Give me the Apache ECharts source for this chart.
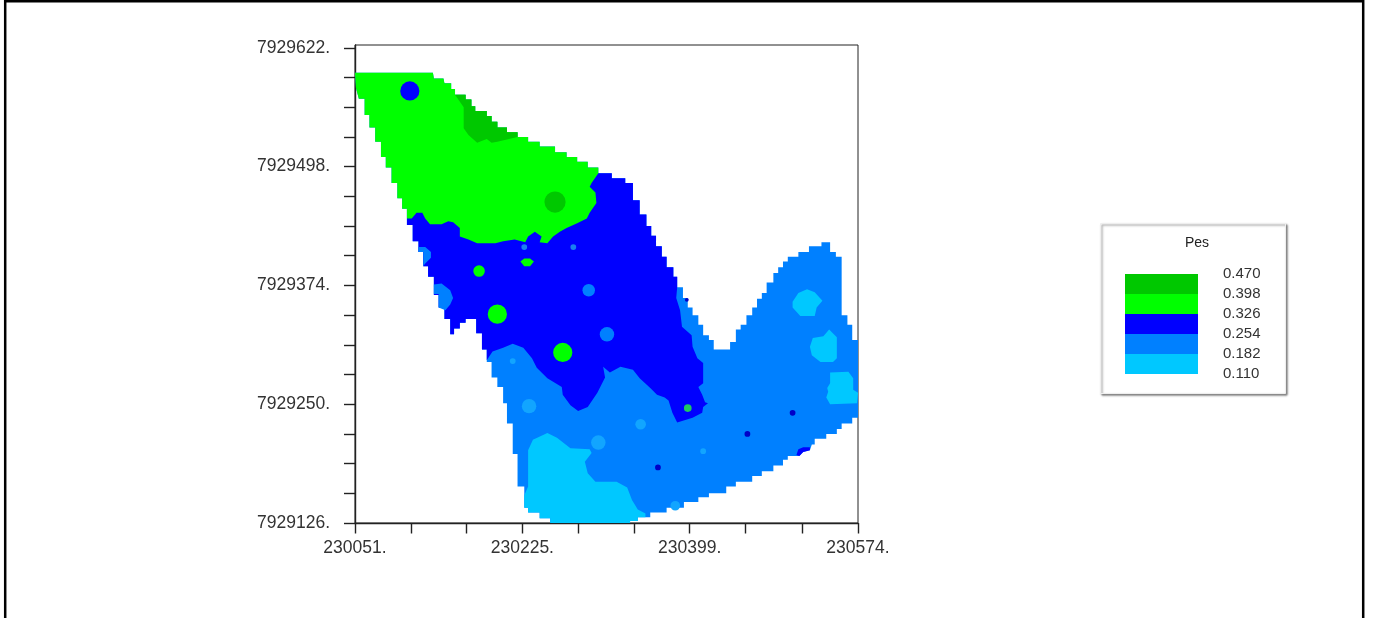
<!DOCTYPE html>
<html>
<head>
<meta charset="utf-8">
<style>html,body{margin:0;padding:0;background:#fff}#chart{width:1373px;height:618px}</style>
<script src="https://cdn.jsdelivr.net/npm/echarts@6/dist/echarts.min.js"></script>
</head>
<body>
<div id="chart"></div>
<script>
// Map origin and extent, in the chart's own easting / northing units
const originE = 230051, originN = 7929126;
const maxE = 230574, maxN = 7929625;
const xTicks = [230051, 230109, 230167, 230225, 230283, 230341, 230399, 230457, 230516, 230574];
const xLabels = [230051, 230225, 230399, 230574];
const yTicks = [7929126, 7929157, 7929188, 7929219, 7929250, 7929281, 7929312, 7929343, 7929374, 7929405, 7929436, 7929467, 7929498, 7929529, 7929560, 7929591, 7929622];
const yLabels = [7929126, 7929250, 7929374, 7929498, 7929622];

// Legend classes
const levels = [0.110, 0.182, 0.254, 0.326, 0.398, 0.470];
const levelColors = ['#00c8ff', '#0080ff', '#0000ff', '#00ff00', '#00c800'];
const LIGHT = 0, MID = 1, BLUE = 2, GREEN = 3, DARK = 4;
const legendTitle = 'Pes';

// Contour zones: [east, north] metres from the map origin
const zoneFull = [[0,470],[81,470],[82,464],[92,464],[93,459],[100,459],[100,453],[104,453],[104,447],[115,447],[115,442],[121,442],[121,435],[125,435],[125,430],[137,430],[137,425],[142,425],[142,419],[148,419],[148,413],[158,413],[158,408],[169,408],[169,403],[180,403],[180,398],[192,398],[192,393],[208,393],[208,387],[220,387],[220,382],[231,382],[231,377],[242,377],[242,371],[253,371],[253,365],[267,365],[267,360],[281,360],[281,355],[289,355],[289,337],[296,337],[296,322],[303,322],[303,310],[308,310],[308,300],[313,300],[313,289],[319,289],[319,278],[324,278],[324,267],[331,267],[331,257],[335,257],[335,246],[341,246],[341,235],[346,235],[346,225],[351,225],[351,217],[357,217],[357,207],[362,207],[362,196],[368,196],[368,191],[373,191],[373,181],[390,181],[390,189],[396,189],[396,202],[401,202],[401,207],[407,207],[407,217],[413,217],[413,225],[418,225],[418,234],[423,234],[423,240],[428,240],[428,251],[435,251],[435,261],[440,261],[440,267],[445,267],[445,273],[450,273],[450,278],[461,278],[461,283],[472,283],[472,289],[485,289],[485,293],[494,293],[494,283],[500,283],[500,278],[506,278],[506,217],[512,217],[512,207],[517,207],[517,191],[523,191],[523,110],[517,110],[517,104],[506,104],[506,98],[501,98],[501,93],[490,93],[490,88],[478,88],[478,82],[475,82],[473,76],[466,74],[462,70],[450,70],[450,66],[445,66],[445,60],[435,60],[435,54],[423,54],[423,49],[413,49],[413,43],[396,43],[396,38],[386,38],[386,31],[368,31],[368,27],[357,27],[357,22],[342,22],[342,16],[324,16],[324,11],[307,11],[307,6],[294,6],[294,2],[286,2],[286,0],[203,0],[203,5],[192,5],[192,11],[180,11],[180,16],[176,16],[176,38],[169,38],[169,72],[164,72],[164,104],[158,104],[158,125],[154,125],[154,142],[148,142],[148,152],[142,152],[142,168],[137,168],[137,181],[132,181],[132,198],[126,198],[126,213],[115,213],[115,209],[109,209],[109,203],[103,203],[103,197],[99,197],[99,213],[93,213],[93,225],[87,225],[87,238],[82,238],[82,257],[76,257],[76,268],[71,268],[71,283],[66,283],[66,294],[60,294],[60,311],[54,311],[54,328],[49,328],[49,339],[44,339],[44,355],[38,355],[38,371],[32,371],[32,382],[27,382],[27,398],[21,398],[21,413],[15,413],[15,426],[10,426],[10,443],[4,443],[1,454]];
const zoneBlue = [[54,328],[253,365],[267,365],[267,360],[281,360],[281,355],[289,355],[289,337],[296,337],[296,322],[303,322],[303,310],[308,310],[308,300],[313,300],[313,289],[319,289],[319,278],[324,278],[324,267],[331,267],[331,257],[335,257],[335,246],[334,235],[338,222],[340,205],[350,196],[351,184],[356,172],[362,167],[362,146],[357,142],[361,134],[364,126],[367,125],[362,121],[361,115],[351,110],[335,105],[330,115],[326,128],[322,131],[314,134],[307,141],[296,151],[289,160],[276,163],[265,157],[258,163],[260,152],[252,136],[242,121],[232,117],[224,123],[216,134],[215,142],[200,151],[189,162],[184,172],[175,183],[164,187],[154,183],[143,179],[137,170],[137,181],[132,181],[132,198],[126,198],[126,213],[115,213],[115,209],[109,209],[109,203],[103,203],[103,197],[99,197],[99,213],[93,213],[93,225],[87,225],[87,238],[82,238],[82,257],[76,257],[76,268],[71,268],[71,283],[66,283],[66,294],[60,294],[60,311],[54,311]];
const zoneGreen = [[0,470],[81,470],[82,464],[92,464],[93,459],[100,459],[100,453],[104,453],[104,447],[115,447],[115,442],[121,442],[121,435],[125,435],[125,430],[137,430],[137,425],[142,425],[142,419],[148,419],[148,413],[158,413],[158,408],[169,408],[169,403],[180,403],[180,398],[192,398],[192,393],[208,393],[208,387],[220,387],[220,382],[231,382],[231,377],[242,377],[242,371],[253,371],[253,365],[246,355],[244,351],[250,345],[251,334],[244,324],[241,318],[231,313],[220,308],[213,304],[206,299],[200,292],[192,293],[194,299],[187,304],[180,299],[177,293],[166,296],[154,294],[146,292],[127,292],[118,296],[109,299],[109,308],[102,314],[97,315],[90,312],[78,312],[73,318],[70,324],[64,324],[59,318],[54,318],[54,328],[49,328],[49,339],[44,339],[44,355],[38,355],[38,371],[32,371],[32,382],[27,382],[27,398],[21,398],[21,413],[15,413],[15,426],[10,426],[10,443],[4,443],[1,454]];
const zoneDarkGreen = [[104,447],[115,447],[115,442],[121,442],[121,435],[125,435],[125,430],[137,430],[137,425],[142,425],[142,419],[148,419],[148,413],[158,413],[158,408],[169,408],[169,403],[148,398],[142,397],[137,401],[127,397],[118,405],[113,412],[113,434]];
const zoneLightSouth = [[180,76],[185,87],[200,94],[210,89],[224,78],[244,77],[246,73],[239,64],[242,52],[250,43],[272,43],[283,37],[288,24],[294,14],[302,10],[302,6],[294,6],[294,2],[286,2],[286,0],[203,0],[203,5],[192,5],[192,11],[180,11],[180,16],[176,16],[176,29],[180,38]];
const zoneLightA = [[455,231],[461,240],[470,244],[478,241],[486,232],[480,225],[478,216],[463,216],[455,225]];
const zoneLightB = [[473,184],[476,193],[487,195],[493,202],[501,194],[501,172],[497,168],[484,168],[475,175]];
const zoneLightC = [[494,157],[513,158],[518,151],[518,139],[523,136],[522,125],[494,124],[490,131],[492,137],[491,141],[494,146]];
const zoneMidWest1 = [[66,288],[73,288],[79,283],[79,277],[73,271],[71,268],[71,283],[66,283]];
const zoneMidWest2 = [[82,249],[90,250],[99,243],[102,235],[99,228],[94,222],[87,225],[87,239],[82,239]];
const zoneGreenOval = [[172,273],[176,276],[182,276],[186,273],[182,268],[176,268]];
const zoneEdgeDark = [[460,74],[461,77],[466,79],[473,79],[473,76],[466,74],[462,70],[459,71]];

// Paint order, lowest first: [zone, class, optional tint]
const zoneList = [
  [zoneFull, MID],
  [zoneLightSouth, LIGHT],
  [zoneLightA, LIGHT],
  [zoneLightB, LIGHT],
  [zoneLightC, LIGHT],
  [zoneBlue, BLUE],
  [zoneMidWest1, MID],
  [zoneMidWest2, MID],
  [zoneGreen, GREEN],
  [zoneDarkGreen, DARK],
  [zoneGreenOval, GREEN],
  [zoneEdgeDark, BLUE]
];

// Small closed contours: [east, north, radius, colour]
const spots = [
  [57, 451, 10, '#0000ff'], [208, 335, 11, '#00c800'],
  [129, 263, 6, '#00ff00'], [148, 218, 10, '#00ff00'], [216, 178, 10, '#00ff00'],
  [176, 288, 3, '#1a80f0'], [227, 288, 3, '#1a80f0'], [243, 243, 6.5, '#0080ff'], [262, 197, 7.5, '#0080ff'],
  [164, 169, 3, '#12a5ff'], [181, 122, 7.5, '#12a5ff'], [297, 103, 5.5, '#12a5ff'], [253, 84, 7.5, '#12a5ff'],
  [362, 75, 3, '#12a5ff'], [333, 18, 5, '#12a5ff'],
  [346, 120, 4, '#20c860'],
  [315, 58, 3, '#0000c8'], [408, 93, 3, '#0000c8'], [455, 115, 3, '#0000c8'], [345, 233, 2, '#0000c8']
];

const chart = echarts.init(document.getElementById('chart'), null, {renderer: 'canvas'});
const font = '"Liberation Sans", Arial, sans-serif';
const ink = '#222';

function renderZone(params, api) {
  const zone = zoneList[params.dataIndex];
  const pts = zone[0].map(p => api.coord([originE + p[0], originN + p[1]]));
  return {type: 'polygon', shape: {points: pts}, style: {fill: levelColors[zone[1]]}};
}
function renderSpot(params, api) {
  const s = spots[params.dataIndex];
  const c = api.coord([originE + s[0], originN + s[1]]);
  const r = api.size([s[2], 0])[0];
  return {type: 'circle', shape: {cx: c[0], cy: c[1], r: r}, style: {fill: s[3]}};
}
function renderBand(params, api) {
  const a = api.coord([0, api.value(1)]);
  const b = api.coord([1, api.value(2)]);
  return {type: 'rect', shape: {x: a[0], y: b[1], width: b[0] - a[0], height: a[1] - b[1]},
          style: {fill: levelColors[params.dataIndex]}};
}

chart.setOption({
  animation: false,
  backgroundColor: '#fff',
  title: {
    text: legendTitle, left: 1192, top: 231, textAlign: 'center',
    textStyle: {fontFamily: font, fontSize: 14, fontWeight: 'normal', color: '#222'}
  },
  graphic: [
    {type: 'rect', z: -10, shape: {x: 5.2, y: 1.2, width: 1358, height: 660},
     style: {fill: 'none', stroke: '#000', lineWidth: 2.5}},
    {type: 'rect', z: -5, shape: {x: 1100.5, y: 223.5, width: 185, height: 170},
     style: {fill: '#fff', stroke: '#eeeeee', lineWidth: 1, shadowColor: 'rgba(0,0,0,0.5)', shadowBlur: 2, shadowOffsetX: 1.5, shadowOffsetY: 1.5}}
  ],
  grid: [
    {left: 355, top: 45, width: 503, height: 478, show: true, borderColor: ink, borderWidth: 1, backgroundColor: 'transparent'},
    {left: 1125, top: 274, width: 73, height: 100}
  ],
  xAxis: [
    {type: 'value', gridIndex: 0, min: originE, max: maxE, splitLine: {show: false},
     axisLine: {show: true, onZero: false, lineStyle: {color: ink, width: 1.4}},
     axisTick: {show: true, length: 10.5, customValues: xTicks, lineStyle: {color: ink, width: 1.4}},
     axisLabel: {customValues: xLabels, margin: 16, fontFamily: font, fontSize: 17.5, color: '#333', formatter: v => v + '.'}},
    {type: 'value', gridIndex: 1, min: 0, max: 1, show: false}
  ],
  yAxis: [
    {type: 'value', gridIndex: 0, min: originN, max: maxN, splitLine: {show: false},
     axisLine: {show: true, onZero: false, lineStyle: {color: ink, width: 1.4}},
     axisTick: {show: true, length: 11, customValues: yTicks, lineStyle: {color: ink, width: 1.4}},
     axisLabel: {customValues: yLabels, margin: 25, fontFamily: font, fontSize: 17.5, color: '#333', formatter: v => v + '.'}},
    {type: 'value', gridIndex: 1, position: 'right', min: levels[0], max: levels[levels.length - 1],
     splitLine: {show: false}, axisLine: {show: false}, axisTick: {show: false},
     axisLabel: {customValues: levels, margin: 25, fontFamily: font, fontSize: 15, color: '#333', formatter: v => v.toFixed(3)}}
  ],
  series: [
    {type: 'custom', name: 'zones', xAxisIndex: 0, yAxisIndex: 0, clip: true, silent: true, z: 2,
     renderItem: renderZone, data: zoneList.map((z, i) => [originE, originN, i])},
    {type: 'custom', name: 'spots', xAxisIndex: 0, yAxisIndex: 0, clip: true, silent: true, z: 3,
     renderItem: renderSpot, data: spots.map(s => [originE + s[0], originN + s[1], s[2]])},
    {type: 'custom', name: legendTitle, xAxisIndex: 1, yAxisIndex: 1, silent: true, z: 2,
     renderItem: renderBand, encode: {x: 0, y: [1, 2]},
     data: levelColors.map((c, i) => [0, levels[i], levels[i + 1]])}
  ]
});
</script>
</body>
</html>
